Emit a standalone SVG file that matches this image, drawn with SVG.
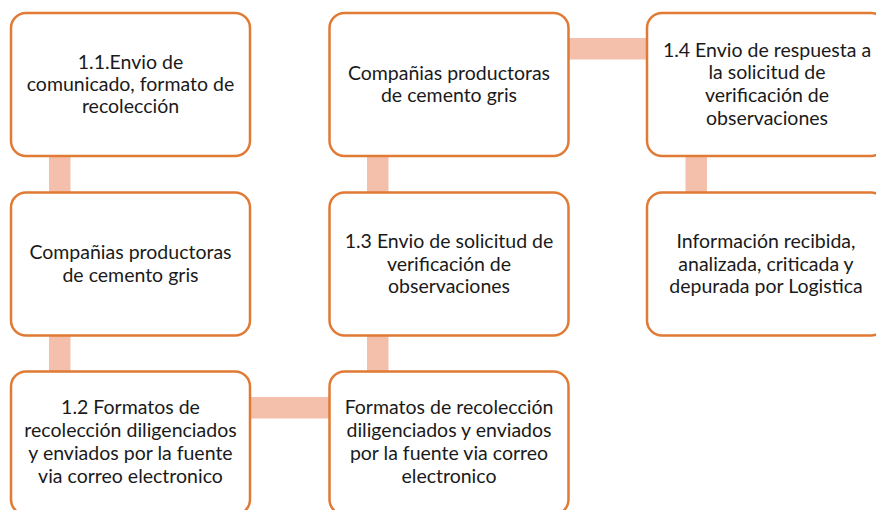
<svg xmlns="http://www.w3.org/2000/svg" width="876" height="510" viewBox="0 0 876 510">
<style>
.box{fill:#FFFFFF;stroke:#E07A35;stroke-width:2.5}
.conn{fill:#F4C0AB}
text{font-family:Lato,"Liberation Sans",sans-serif;font-size:19.5px;fill:#1A1A1A;text-anchor:middle}
</style>
<rect width="876" height="510" fill="#FFFFFF"/>
<g id="connectors">
<rect class="conn" x="49" y="155" width="21.5" height="38"/>
<rect class="conn" x="49" y="334" width="21.5" height="38"/>
<rect class="conn" x="367" y="155" width="21.5" height="38"/>
<rect class="conn" x="367" y="334" width="21.5" height="38"/>
<rect class="conn" x="685.5" y="155" width="21.5" height="38"/>
<rect class="conn" x="249" y="397" width="81" height="21.5"/>
<rect class="conn" x="567" y="38" width="81" height="21.5"/>
</g>
<g id="n11">
<rect class="box" x="11" y="13" width="239" height="143" rx="15"/>
<text x="130.5" y="69">1.1.Envio de</text>
<text x="130.5" y="91">comunicado, formato de</text>
<text x="130.5" y="113">recolección</text>
</g>
<g id="n-comp1">
<rect class="box" x="11" y="192.5" width="239" height="143" rx="15"/>
<text x="130.5" y="259">Compañias productoras</text>
<text x="130.5" y="282">de cemento gris</text>
</g>
<g id="n12">
<rect class="box" x="11" y="371.5" width="239" height="143" rx="15"/>
<text x="130.5" y="414">1.2 Formatos de</text>
<text x="130.5" y="437">recolección diligenciados</text>
<text x="130.5" y="460">y enviados por la fuente</text>
<text x="130.5" y="483">via correo electronico</text>
</g>
<g id="n-comp2">
<rect class="box" x="329.5" y="13" width="239" height="143" rx="15"/>
<text x="449" y="80">Compañias productoras</text>
<text x="449" y="102">de cemento gris</text>
</g>
<g id="n13">
<rect class="box" x="329.5" y="192.5" width="239" height="143" rx="15"/>
<text x="449" y="248">1.3 Envio de solicitud de</text>
<text x="449" y="271">verificación de</text>
<text x="449" y="293">observaciones</text>
</g>
<g id="n-formatos">
<rect class="box" x="329.5" y="371.5" width="239" height="143" rx="15"/>
<text x="449" y="414">Formatos de recolección</text>
<text x="449" y="437">diligenciados y enviados</text>
<text x="449" y="460">por la fuente via correo</text>
<text x="449" y="483">electronico</text>
</g>
<g id="n14">
<rect class="box" x="647" y="13" width="239" height="143" rx="15"/>
<text x="767" y="57">1.4 Envio de respuesta a</text>
<text x="767" y="79">la solicitud de</text>
<text x="767" y="102">verificación de</text>
<text x="767" y="125">observaciones</text>
</g>
<g id="n-info">
<rect class="box" x="647" y="192.5" width="239" height="143" rx="15"/>
<text x="766" y="248">Información recibida,</text>
<text x="766" y="271">analizada, criticada y</text>
<text x="766" y="293">depurada por Logistica</text>
</g>
</svg>
